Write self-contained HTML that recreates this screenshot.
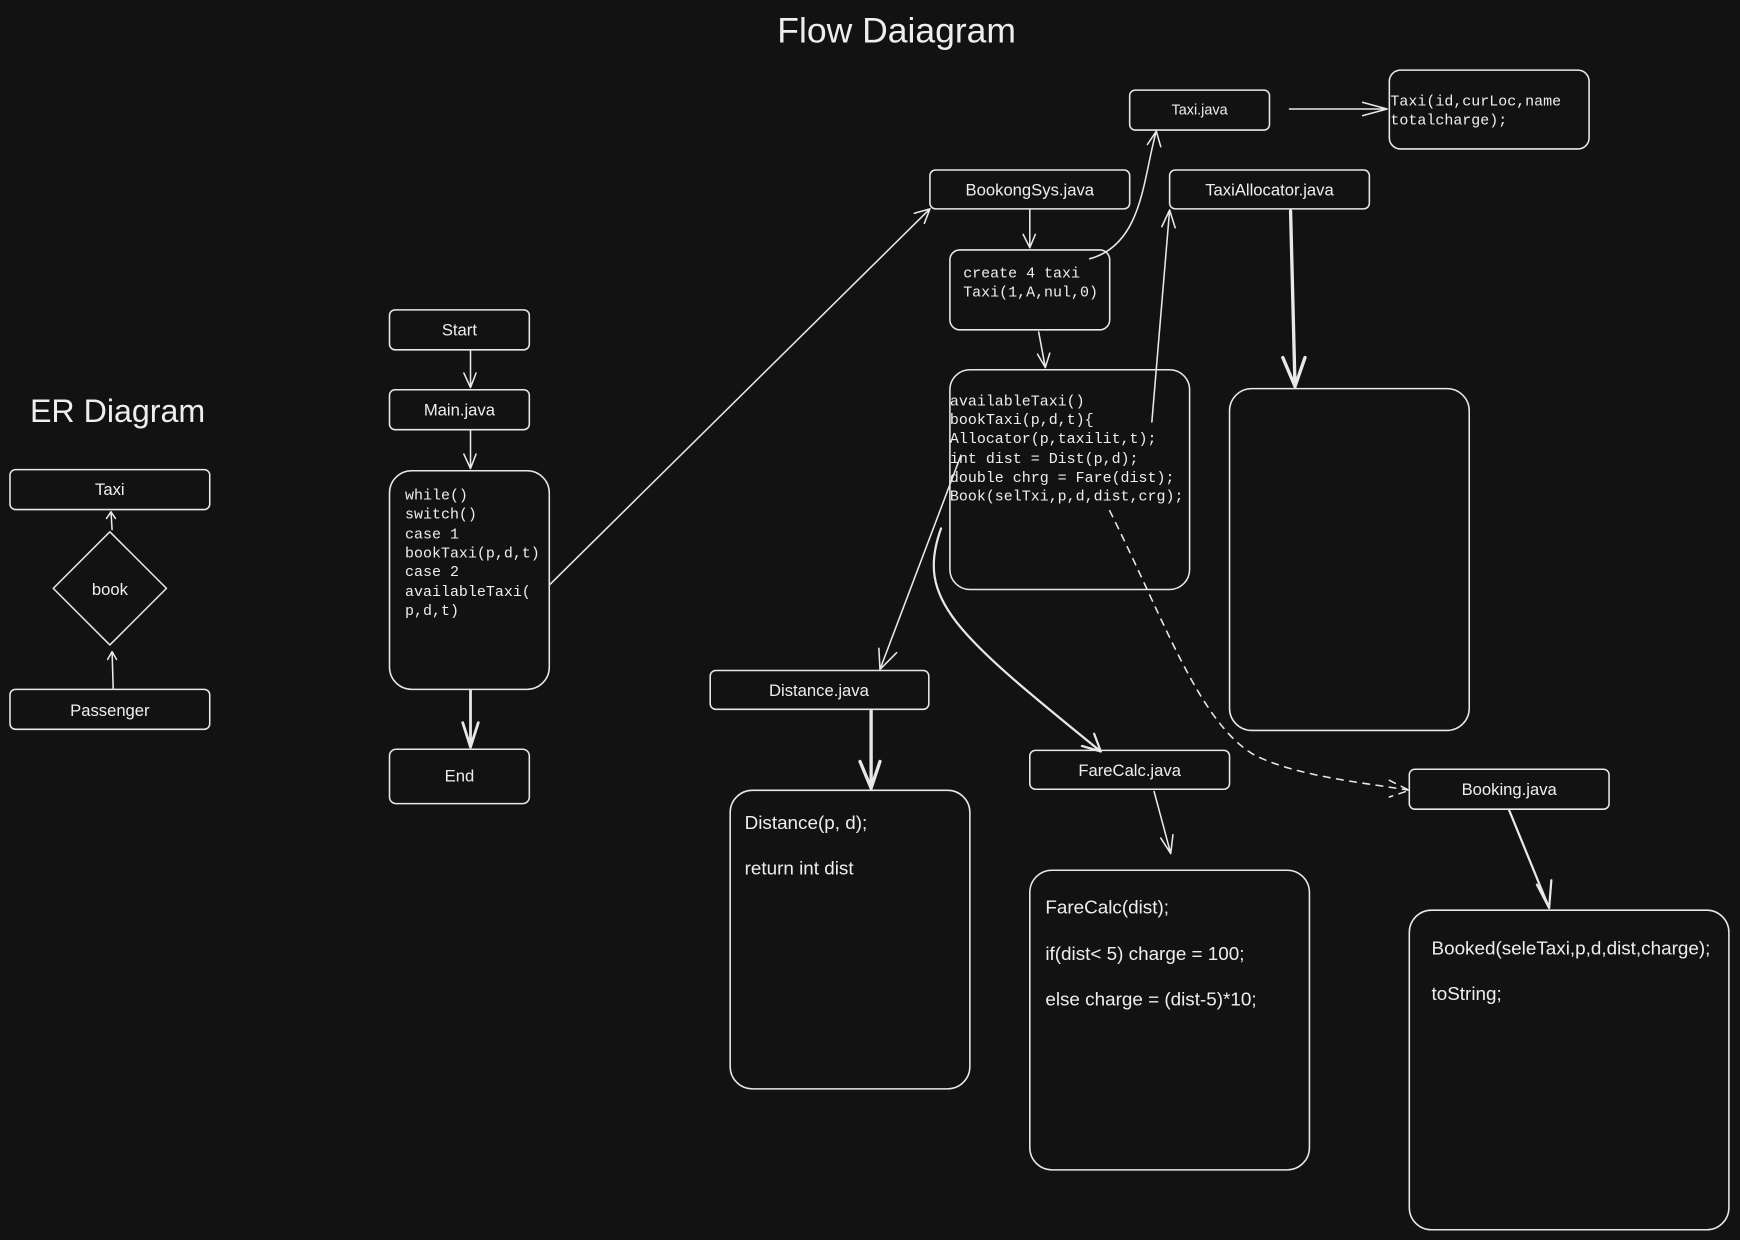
<!DOCTYPE html>
<html><head><meta charset="utf-8"><style>
html,body{margin:0;padding:0;background:#121212;}
svg{display:block}
.h{font-family:"Liberation Sans",sans-serif;fill:#eee;}
.m{font-family:"Liberation Mono",monospace;fill:#eee;font-size:13.5px;}
.s{font-family:"Liberation Sans",sans-serif;fill:#eee;font-size:17px;}
rect,path,line,polygon{stroke:#e8e8e8;fill:none;stroke-width:1.4;stroke-linecap:round;stroke-linejoin:round}
</style></head><body>
<svg width="1740" height="1240" viewBox="0 0 1568 1117" xmlns="http://www.w3.org/2000/svg">
<rect x="0" y="0" width="1568" height="1117" style="fill:#121212;stroke:none"/>
<text class="h" x="808" y="38" font-size="32" text-anchor="middle">Flow Daiagram</text>
<text class="h" x="27" y="380" font-size="29">ER Diagram</text>

<!-- ER -->
<rect x="9" y="423" width="180" height="36" rx="5"/>
<text class="h" x="99" y="446" font-size="15" text-anchor="middle">Taxi</text>
<polygon points="99,479 150,530 99,581 48,530"/>
<text class="h" x="99" y="536" font-size="15" text-anchor="middle">book</text>
<rect x="9" y="621" width="180" height="36" rx="5"/>
<text class="h" x="99" y="645" font-size="15" text-anchor="middle">Passenger</text>
<path d="M101 477 L100 461 M96 467 L100 461 L104 467"/>
<path d="M102 620 L101 587 M97 594 L101 587 L105 594"/>

<!-- left flow -->
<rect x="351" y="279" width="126" height="36" rx="5"/>
<text class="h" x="414" y="302" font-size="15" text-anchor="middle">Start</text>
<rect x="351" y="351" width="126" height="36" rx="5"/>
<text class="h" x="414" y="374" font-size="15" text-anchor="middle">Main.java</text>
<rect x="351" y="424" width="144" height="197" rx="20"/>
<text class="m" x="365" y="450">while()</text>
<text class="m" x="365" y="467">switch()</text>
<text class="m" x="365" y="485">case 1</text>
<text class="m" x="365" y="502">bookTaxi(p,d,t)</text>
<text class="m" x="365" y="519">case 2</text>
<text class="m" x="365" y="537">availableTaxi(</text>
<text class="m" x="365" y="554">p,d,t)</text>
<rect x="351" y="675" width="126" height="49" rx="6"/>
<text class="h" x="414" y="704" font-size="15" text-anchor="middle">End</text>
<path d="M424 316 L424 349 M418 336 L424 349 L429 336"/>
<path d="M424 388 L424 422 M418 409 L424 422 L429 409"/>
<path d="M424 622 L424 673 M417 651 L424 673 L431 651" style="stroke-width:2.5"/>
<path d="M495 527 L838 188 M824 192 L838 188 L833 201"/>

<!-- top -->
<rect x="838" y="153" width="180" height="35" rx="5"/>
<text class="h" x="928" y="176" font-size="15" text-anchor="middle">BookongSys.java</text>
<rect x="1054" y="153" width="180" height="35" rx="5"/>
<text class="h" x="1144" y="176" font-size="15" text-anchor="middle">TaxiAllocator.java</text>
<rect x="1018" y="81" width="126" height="36" rx="5"/>
<text class="h" x="1081" y="103" font-size="13" text-anchor="middle">Taxi.java</text>
<rect x="1252" y="63" width="180" height="71" rx="10"/>
<text class="m" x="1253" y="95">Taxi(id,curLoc,name</text>
<text class="m" x="1253" y="112">totalcharge);</text>
<path d="M1162 98 L1250 98 M1228 92 L1250 98 L1228 104"/>
<path d="M928 189 L928 223 M922 211 L928 223 L933 211"/>
<rect x="856" y="225" width="144" height="72" rx="9"/>
<text class="m" x="868" y="250">create 4 taxi</text>
<text class="m" x="868" y="267">Taxi(1,A,nul,0)</text>
<path d="M982 233 C1030 220 1030 160 1042 118 M1034 130 L1042 118 L1046 132"/>
<path d="M936 299 L942 331 M935 319 L942 331 L946 318"/>
<rect x="856" y="333" width="216" height="198" rx="18"/>
<text class="m" x="856" y="365">availableTaxi()</text>
<text class="m" x="856" y="382">bookTaxi(p,d,t){</text>
<text class="m" x="856" y="399">Allocator(p,taxilit,t);</text>
<text class="m" x="856" y="417">int dist = Dist(p,d);</text>
<text class="m" x="856" y="434">double chrg = Fare(dist);</text>
<text class="m" x="856" y="451">Book(selTxi,p,d,dist,crg);</text>
<path d="M1038 380 L1054 189 M1047 204 L1054 189 L1059 205"/>
<rect x="1108" y="350" width="216" height="308" rx="20"/>
<path d="M1163 190 L1167 348 M1156 322 L1167 348 L1176 322" style="stroke-width:3"/>

<!-- Distance -->
<path d="M866 410 L793 603 M792 584 L793 603 L808 588"/>
<rect x="640" y="604" width="197" height="35" rx="5"/>
<text class="h" x="738" y="627" font-size="15" text-anchor="middle">Distance.java</text>
<path d="M785 640 L785 710 M775 686 L785 710 L793 686" style="stroke-width:3"/>
<rect x="658" y="712" width="216" height="269" rx="20"/>
<text class="s" x="671" y="747">Distance(p, d);</text>
<text class="s" x="671" y="788">return int dist</text>

<!-- FareCalc -->
<path d="M848 476 C825 540 860 570 992 677 M975 672 L992 677 L986 661" style="stroke-width:2"/>
<rect x="928" y="676" width="180" height="35" rx="5"/>
<text class="h" x="1018" y="699" font-size="15" text-anchor="middle">FareCalc.java</text>
<path d="M1040 713 L1055 769 M1046 755 L1055 769 L1057 752"/>
<rect x="928" y="784" width="252" height="270" rx="20"/>
<text class="s" x="942" y="823">FareCalc(dist);</text>
<text class="s" x="942" y="865">if(dist&lt; 5) charge = 100;</text>
<text class="s" x="942" y="906">else charge = (dist-5)*10;</text>

<!-- Booking -->
<path d="M1000 460 C1050 560 1080 650 1130 680 C1170 700 1230 705 1270 712 M1252 703 L1270 712 L1252 718" style="stroke-dasharray:6 6"/>
<rect x="1270" y="693" width="180" height="36" rx="5"/>
<text class="h" x="1360" y="716" font-size="15" text-anchor="middle">Booking.java</text>
<path d="M1360 730 L1396 818 M1385 797 L1396 818 L1398 793" style="stroke-width:2"/>
<rect x="1270" y="820" width="288" height="288" rx="20"/>
<text class="s" x="1290" y="860">Booked(seleTaxi,p,d,dist,charge);</text>
<text class="s" x="1290" y="901">toString;</text>
</svg>
</body></html>
